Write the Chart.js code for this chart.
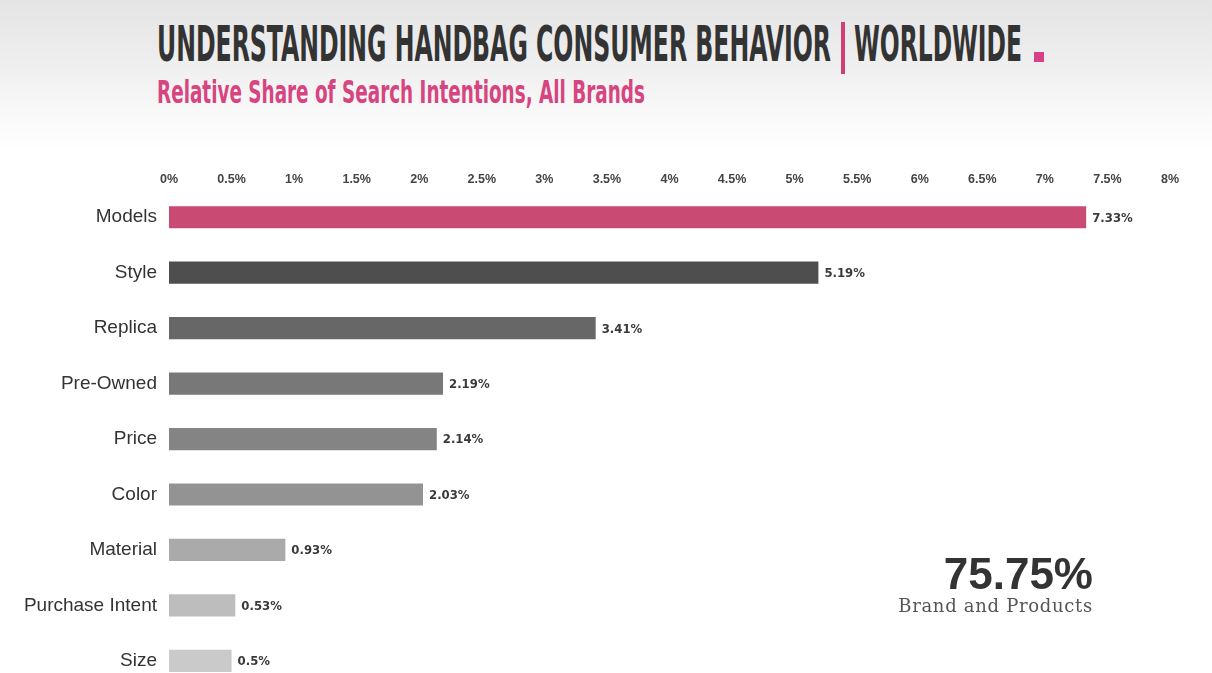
<!DOCTYPE html>
<html>
<head>
<meta charset="utf-8">
<script src="https://cdn.jsdelivr.net/npm/chart.js@4/dist/chart.umd.min.js"></script>
<style>
  html, body { margin: 0; padding: 0; }
  body {
    width: 1212px; height: 673px; overflow: hidden; position: relative;
    background: linear-gradient(to bottom, #e4e4e4 0px, #eeeeee 60px, #f8f8f8 110px, #ffffff 150px);
    font-family: 'Liberation Sans', Arial, sans-serif;
  }
  .fit { position: absolute; white-space: nowrap; transform-origin: left top; }
  #title1, #title2 {
    top: 19px; font-family: 'Liberation Sans Narrow', 'DejaVu Sans Condensed', sans-serif;
    font-weight: bold; font-size: 50px; color: #333333; line-height: 1;
  }
  #pipe { position: absolute; left: 841px; top: 22px; width: 4px; height: 52px; background: #d13f78; }
  #dot { position: absolute; left: 1034px; top: 52px; width: 10px; height: 10px; background: #d8408a; }
  #subtitle {
    top: 76px; font-family: 'Liberation Sans Narrow', 'DejaVu Sans Condensed', sans-serif;
    font-weight: bold; font-size: 32px; color: #d6457f; line-height: 1;
  }
  #chartBox { position: absolute; left: 0; top: 150px; width: 1212px; height: 562px; }
  #bigStat {
    position: absolute; right: 119px; top: 552px; font-family: 'Liberation Sans', Arial, sans-serif;
    font-weight: bold; font-size: 44px; color: #333333; line-height: 1;
  }
  #bigStatLabel {
    position: absolute; right: 119px; top: 597px; font-family: 'DejaVu Serif', 'Liberation Serif', serif;
    font-size: 18px; color: #555555; letter-spacing: 0.7px; line-height: 1;
  }
</style>
</head>
<body>
<div id="title1" class="fit">UNDERSTANDING HANDBAG CONSUMER BEHAVIOR</div>
<div id="pipe"></div>
<div id="title2" class="fit">WORLDWIDE</div>
<div id="dot"></div>
<div id="subtitle" class="fit">Relative Share of Search Intentions, All Brands</div>
<div id="chartBox"><canvas id="intentChart" width="1212" height="562"></canvas></div>
<div id="bigStat">75.75%</div>
<div id="bigStatLabel">Brand and Products</div>

<script>
// Search intention categories and their share of searches (%)
const categories = ['Models', 'Style', 'Replica', 'Pre-Owned', 'Price', 'Color', 'Material', 'Purchase Intent', 'Size'];
const shares = [7.33, 5.19, 3.41, 2.19, 2.14, 2.03, 0.93, 0.53, 0.5];
const valueLabels = ['7.33%', '5.19%', '3.41%', '2.19%', '2.14%', '2.03%', '0.93%', '0.53%', '0.5%'];
const barColors = ['#c94a73', '#4e4e4e', '#676767', '#787878', '#848484', '#939393', '#aaaaaa', '#bdbdbd', '#cacaca'];
const axisMax = 8;

// squeeze the heading text into a fixed width
function fitText(id, left, width) {
  const el = document.getElementById(id);
  el.style.left = left + 'px';
  el.style.transform = 'scaleX(' + (width / el.offsetWidth) + ')';
}
fitText('title1', 157, 674);
fitText('title2', 854, 168);
fitText('subtitle', 157, 488);

// percentage written just past the end of each bar
const barValuePlugin = {
  id: 'barValues',
  afterDatasetsDraw(chart) {
    const ctx = chart.ctx;
    const meta = chart.getDatasetMeta(0);
    ctx.save();
    ctx.font = "bold 13px 'DejaVu Sans Condensed', 'Liberation Sans Narrow', sans-serif";
    ctx.fillStyle = '#3a3a3a';
    ctx.textAlign = 'left';
    ctx.textBaseline = 'middle';
    meta.data.forEach((bar, i) => {
      ctx.fillText(valueLabels[i], bar.x + 6, bar.y + 1);
    });
    ctx.restore();
  }
};

new Chart(document.getElementById('intentChart'), {
  type: 'bar',
  data: {
    labels: categories,
    datasets: [{
      data: shares,
      backgroundColor: barColors,
      borderWidth: 0,
      categoryPercentage: 1,
      barPercentage: 0.4
    }]
  },
  options: {
    indexAxis: 'y',
    responsive: false,
    animation: false,
    layout: { padding: { right: 42, left: 0, top: 0, bottom: 0 } },
    plugins: { legend: { display: false }, tooltip: { enabled: false } },
    scales: {
      x: {
        position: 'top',
        min: 0, max: axisMax,
        grid: { display: false, drawTicks: false },
        border: { display: false },
        afterFit(scale) { scale.height = 39.5; },
        ticks: {
          stepSize: 0.5,
          padding: 2,
          color: '#444444',
          font: { family: "'Liberation Sans', Arial, sans-serif", size: 12.5, weight: 'bold' },
          callback: v => v + '%'
        }
      },
      y: {
        grid: { display: false, drawTicks: false },
        border: { display: false },
        afterFit(scale) { scale.width = 169; },
        ticks: {
          padding: 12,
          color: '#333333',
          font: { family: "'Liberation Sans', Arial, sans-serif", size: 19 }
        }
      }
    }
  },
  plugins: [barValuePlugin]
});
</script>
</body>
</html>
